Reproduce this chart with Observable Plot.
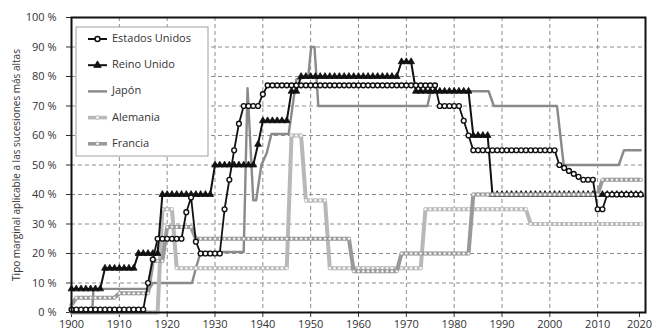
<!DOCTYPE html>
<html><head><meta charset="utf-8">
<script src="https://cdn.jsdelivr.net/npm/d3@7"></script>
<script src="https://cdn.jsdelivr.net/npm/@observablehq/plot@0.6"></script>
<style>body{margin:0;background:#fff} #chart{width:653px;height:333px}</style>
</head><body><div id="chart"></div>
<script>
// ---- data (top inheritance tax rates, %) ----
const years = d3.range(1900, 2020);
const xTicks = [1900,1910,1920,1930,1940,1950,1960,1970,1980,1990,2000,2010,2020];
const yTicks = [0,10,20,30,40,50,60,70,80,90,100];
const seriesNames = ["Estados Unidos","Reino Unido","Japón","Alemania","Francia"];

const estadosUnidos = [
  1,1,1,1,1,1,1,1,1,1,
  1,1,1,1,1,1,10,18,25,25,
  25,25,25,25,34,39,24,20,20,20,
  20,20,35,45,55,64,70,70,70,70,
  74,77,77,77,77,77,77,77,77,77,
  77,77,77,77,77,77,77,77,77,77,
  77,77,77,77,77,77,77,77,77,77,
  77,77,77,77,77,77,77,70,70,70,
  70,70,65,60,55,55,55,55,55,55,
  55,55,55,55,55,55,55,55,55,55,
  55,55,50,49,48,47,46,45,45,45,
  35,35,40,40,40,40,40,40,40,40];

const reinoUnido = [
  8,8,8,8,8,8,8,15,15,15,
  15,15,15,15,20,20,20,20,20,40,
  40,40,40,40,40,40,40,40,40,40,
  50,50,50,50,50,50,50,50,50,57,
  65,65,65,65,65,65,75,75,80,80,
  80,80,80,80,80,80,80,80,80,80,
  80,80,80,80,80,80,80,80,80,85,
  85,85,75,75,75,75,75,75,75,75,
  75,75,75,75,60,60,60,60,40,40,
  40,40,40,40,40,40,40,40,40,40,
  40,40,40,40,40,40,40,40,40,40,
  40,40,40,40,40,40,40,40,40,40];

const alemania = [
  0,0,0,0,0,0,0,0,0,0,
  0,0,0,0,0,0,0,0,0,35,
  35,35,15,15,15,15,15,15,15,15,
  15,15,15,15,15,15,15,15,15,15,
  15,15,15,15,15,15,60,60,60,38,
  38,38,38,38,15,15,15,15,15,15,
  15,15,15,15,15,15,15,15,15,15,
  15,15,15,15,35,35,35,35,35,35,
  35,35,35,35,35,35,35,35,35,35,
  35,35,35,35,35,35,30,30,30,30,
  30,30,30,30,30,30,30,30,30,30,
  30,30,30,30,30,30,30,30,30,30];

const francia = [
  2.5,5,5,5,5,5,5,5,5,5,
  6.5,6.5,6.5,6.5,6.5,6.5,6.5,17.5,17.5,17.5,
  29,29,29,29,29,29,25,25,25,25,
  25,25,25,25,25,25,25,25,25,25,
  25,25,25,25,25,25,25,25,25,25,
  25,25,25,25,25,25,25,25,25,14,
  14,14,14,14,14,14,14,14,14,20,
  20,20,20,20,20,20,20,20,20,20,
  20,20,20,20,40,40,40,40,40,40,
  40,40,40,40,40,40,40,40,40,40,
  40,40,40,40,40,40,40,40,40,40,
  40,45,45,45,45,45,45,45,45,45];

// Japan: line without markers, read at its break points
const japonYears  = [1900,1904.3,1904.6,1916.3,1917,1925.2,1926,1927,1936,1936.8,1938,1938.6,1939.7,1940.8,1941.8,1945.4,1947,1949.5,1950.1,1950.8,1951.6,1974.4,1975.1,1987.2,1988.3,2001.5,2002.9,2014.4,2015.5,2019];
const japonValues = [0,0,8,8,10,10,15,20.5,20.5,76,38,38,50,54,60.5,60.5,79,80,90,90,70,70,75,75,70,70,50,50,55,55];

const rows = vals => years.map((y, i) => ({year: y, value: vals[i]}));
const us = rows(estadosUnidos), uk = rows(reinoUnido), de = rows(alemania), fr = rows(francia);
const jp = japonYears.map((y, i) => ({year: y, value: japonValues[i]}));

const C = {us: "#111", uk: "#111", jp: "#8a8a8a", de: "#b8b8b8", fr: "#999999"};
const FONT = "'Open Sans', sans-serif";

const plot = Plot.plot({
  width: 653, height: 333,
  marginLeft: 71, marginRight: 8, marginTop: 17, marginBottom: 21,
  x: {domain: [1900, 2020]},
  y: {domain: [0, 100]},
  style: {fontFamily: FONT, fontSize: "11px", color: "#333", background: "white"},
  marks: [
    Plot.gridX(xTicks.slice(1, -1), {stroke: "#8c8c8c", strokeOpacity: 1, strokeDasharray: "4,3"}),
    Plot.gridY(yTicks.slice(1, -1), {stroke: "#8c8c8c", strokeOpacity: 1, strokeDasharray: "4,3"}),
    Plot.axisX({ticks: xTicks.slice(0, -1), tickSize: 5, tickPadding: 3, label: null, tickFormat: d => String(d)}),
    Plot.axisX({ticks: xTicks.slice(-1), tickSize: 5, tickPadding: 3, label: null, tickFormat: d => String(d), dx: -6}),
    Plot.axisY({ticks: yTicks, tickSize: 5, tickPadding: 10, label: null, tickFormat: d => d + " %"}),
    Plot.line(jp, {x: "year", y: "value", stroke: C.jp, strokeWidth: 2.4}),
    Plot.line(de, {x: "year", y: "value", stroke: C.de, strokeWidth: 4}),
    Plot.dot(de, {x: "year", y: "value", symbol: "square", r: 1.6, fill: "white", stroke: C.de, strokeWidth: 0.6}),
    Plot.line(uk, {x: "year", y: "value", stroke: C.uk, strokeWidth: 2}),
    Plot.dot(uk, {x: "year", y: "value", symbol: "triangle", r: 2.5, fill: C.uk, stroke: C.uk, strokeWidth: 0.8}),
    Plot.line(fr, {x: "year", y: "value", stroke: C.fr, strokeWidth: 4}),
    Plot.dot(fr, {x: "year", y: "value", symbol: "circle", r: 1.5, fill: "white", stroke: C.fr, strokeWidth: 0.6}),
    Plot.line(us, {x: "year", y: "value", stroke: C.us, strokeWidth: 1.8}),
    Plot.dot(us, {x: "year", y: "value", symbol: "circle", r: 2.4, fill: "white", stroke: C.us, strokeWidth: 1.4}),
    Plot.frame({stroke: "#111", strokeWidth: 2})
  ]
});
document.getElementById("chart").appendChild(plot);

// ---- legend and axis title ----
const svg = d3.select(plot);
svg.append("text")
  .attr("transform", "translate(17,165) rotate(-90)")
  .attr("text-anchor", "middle").attr("dominant-baseline", "middle")
  .attr("font-family", FONT).attr("font-size", 10).attr("fill", "#333")
  .text("Tipo marginal aplicable a las sucesiones más altas");

const lg = svg.append("g").attr("font-family", FONT).attr("font-size", 11).attr("text-anchor", "start");
lg.append("rect").attr("x", 76).attr("y", 27).attr("width", 132).attr("height", 129)
  .attr("fill", "white").attr("stroke", "#a0a0a0").attr("stroke-width", 1);
const legendStyle = [
  {stroke: C.us, w: 2, sym: d3.symbolCircle, r: 2.5, fill: "white", sw: 1.5},
  {stroke: C.uk, w: 2, sym: d3.symbolTriangle, r: 2.8, fill: C.uk, sw: 0.8},
  {stroke: C.jp, w: 2.4, sym: null},
  {stroke: C.de, w: 3.6, sym: d3.symbolSquare, r: 1.8, fill: "white", sw: 0.8},
  {stroke: C.fr, w: 3.6, sym: d3.symbolCircle, r: 1.8, fill: "white", sw: 0.9}
];
seriesNames.forEach((name, i) => {
  const y = 39 + i * 26.2, s = legendStyle[i];
  lg.append("line").attr("x1", 88).attr("x2", 107).attr("y1", y).attr("y2", y)
    .attr("stroke", s.stroke).attr("stroke-width", s.w);
  if (s.sym) lg.append("path").attr("transform", `translate(97.5,${y})`)
    .attr("d", d3.symbol(s.sym, Math.PI * s.r * s.r)())
    .attr("fill", s.fill).attr("stroke", s.stroke).attr("stroke-width", s.sw);
  lg.append("text").attr("x", 112).attr("y", y).attr("text-anchor", "start")
    .attr("dominant-baseline", "middle").attr("fill", "#333").text(name);
});
</script></body></html>
